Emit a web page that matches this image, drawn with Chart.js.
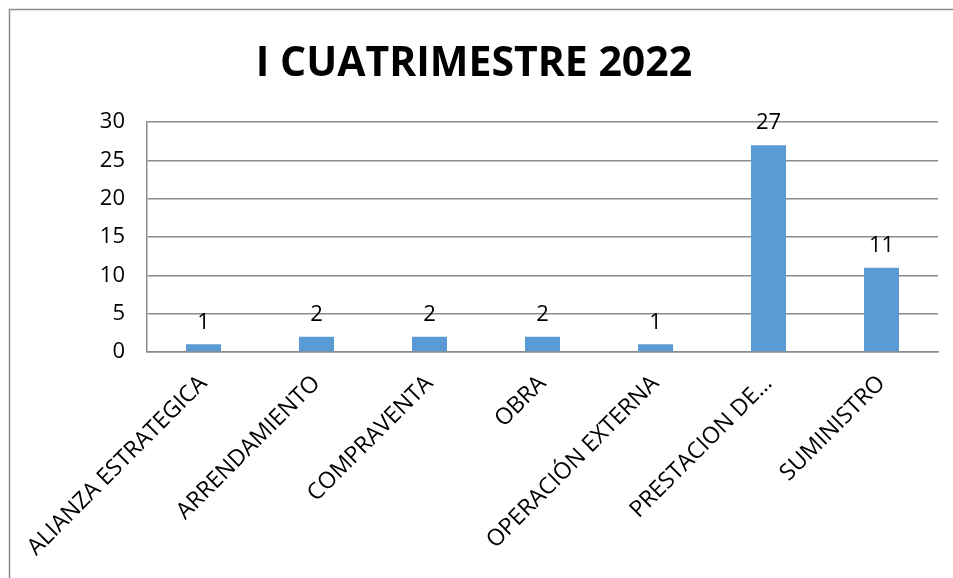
<!DOCTYPE html>
<html>
<head>
<meta charset="utf-8">
<script src="https://cdn.jsdelivr.net/npm/chart.js@4"></script>
<style>
  html, body { margin: 0; padding: 0; background: #fff; }
  #wrap { width: 953px; height: 578px; }
</style>
</head>
<body>
<div id="wrap"><canvas id="myChart" width="953" height="578"></canvas></div>
<script>
// datos del grafico
var categorias = ['ALIANZA ESTRATEGICA', 'ARRENDAMIENTO', 'COMPRAVENTA', 'OBRA', 'OPERACIÓN EXTERNA', 'PRESTACION DE…', 'SUMINISTRO'];
var valores = [1, 2, 2, 2, 1, 27, 11];
var titulo = 'I CUATRIMESTRE 2022';
var yMin = 0, yMax = 30, yPaso = 5;

var fuente = "'Open Sans', 'Liberation Sans', sans-serif";

// borde exterior y etiquetas de valor
var extras = {
  id: 'extras',
  beforeDraw: function(chart) {
    var c = chart.ctx;
    c.save();
    c.fillStyle = '#fff';
    c.fillRect(0, 0, chart.width, chart.height);
    c.strokeStyle = '#8c8c8c';
    c.lineWidth = 1.5;
    c.strokeRect(9.5, 9.5, 1200, 1200);
    c.restore();
  },
  afterDatasetsDraw: function(chart) {
    var c = chart.ctx;
    var meta = chart.getDatasetMeta(0);
    c.save();
    c.fillStyle = '#000';
    c.font = '22px ' + fuente;
    c.textAlign = 'center';
    c.textBaseline = 'bottom';
    meta.data.forEach(function(bar, i) {
      c.fillText(valores[i], bar.x, bar.y - 11);
    });
    c.restore();
  }
};

const ctx = document.getElementById('myChart');
chart = new Chart(ctx, {
  type: 'bar',
  data: {
    labels: categorias,
    datasets: [{
      data: valores,
      backgroundColor: '#5B9BD5',
      borderWidth: 0,
      barPercentage: 0.62,
      categoryPercentage: 0.5
    }]
  },
  options: {
    responsive: false,
    animation: false,
    layout: { padding: { left: 10, right: 15, top: 0, bottom: 0 } },
    plugins: {
      legend: { display: false },
      tooltip: { enabled: false },
      title: {
        display: true,
        text: titulo,
        color: '#000',
        font: { family: fuente, size: 41, weight: 'bold' },
        padding: { top: 40, bottom: 33 }
      }
    },
    scales: {
      x: {
        grid: { display: false, drawTicks: false },
        border: { display: true, color: '#8c8c8c', width: 1.5 },
        ticks: {
          color: '#000',
          font: { family: fuente, size: 23 },
          minRotation: 45,
          maxRotation: 45,
          padding: 18,
          autoSkip: false
        },
        afterFit: function(scale) { scale.height = 226; }
      },
      y: {
        min: yMin,
        max: yMax,
        grid: { color: '#8c8c8c', lineWidth: 1.5, drawTicks: false },
        border: { display: true, color: '#8c8c8c', width: 1.5 },
        ticks: {
          stepSize: yPaso,
          color: '#000',
          font: { family: fuente, size: 22 },
          padding: 22
        },
        afterFit: function(scale) { scale.width = 137; }
      }
    }
  },
  plugins: [extras]
});
</script>
</body>
</html>
